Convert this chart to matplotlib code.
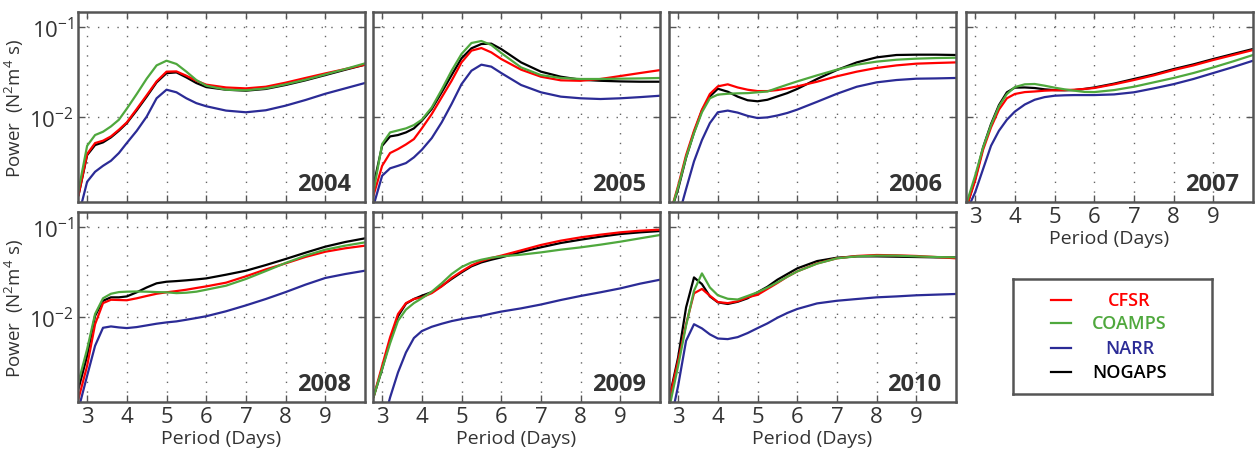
import matplotlib
matplotlib.use("Agg")
import matplotlib.pyplot as plt
from matplotlib.ticker import FixedLocator, NullLocator, NullFormatter
import numpy as np

plt.rcParams['font.family'] = ['Open Sans', 'DejaVu Sans']
plt.rcParams['mathtext.fontset'] = 'custom'
plt.rcParams['mathtext.rm'] = 'Open Sans'
plt.rcParams['mathtext.it'] = 'Open Sans:italic'
plt.rcParams['mathtext.bf'] = 'Open Sans:bold'

# period grid (days), shared by every panel
PERIOD = [2.78, 3.0, 3.2, 3.4, 3.6, 3.8, 4.0, 4.25, 4.5, 4.75, 5.0, 5.25,
          5.5, 5.75, 6.0, 6.5, 7.0, 7.5, 8.0, 8.5, 9.0, 9.5, 10.0]

# power values, in units of 1e-3 N^2 m^4 s
CFSR_2004 = [1.35, 3.92, 5.19, 5.51, 6.15, 7.29, 8.8, 12.4, 17.6, 25.1, 32.2, 32.4, 29.0, 25.5, 23.1, 21.5, 21.0, 21.9, 24.3, 27.4, 30.8, 34.4, 38.5]
COAMPS_2004 = [1.53, 4.84, 6.37, 6.93, 7.94, 9.42, 12.5, 18.2, 26.9, 37.8, 42.6, 39.2, 32.2, 26.0, 22.5, 20.3, 20.0, 21.0, 23.3, 26.2, 30.0, 34.4, 39.8]
NARR_2004 = [0.8, 1.93, 2.49, 2.90, 3.30, 4.02, 5.2, 7.1, 10.2, 16.3, 20.3, 19.0, 16.3, 14.4, 13.3, 11.9, 11.4, 12.0, 13.5, 15.6, 18.3, 21.0, 24.1]
NOGAPS_2004 = [1.35, 3.81, 4.93, 5.28, 6.00, 7.11, 8.65, 12.0, 17.0, 24.5, 31.0, 31.6, 27.8, 24.1, 21.7, 20.3, 19.8, 20.7, 22.9, 25.8, 29.5, 33.8, 38.5]

CFSR_2005 = [1.35, 2.90, 4.02, 4.45, 5.01, 5.74, 7.55, 10.9, 16.7, 25.5, 40.8, 55.1, 58.9, 52.7, 44.5, 33.9, 28.3, 25.8, 25.5, 26.7, 28.8, 31.1, 33.5]
COAMPS_2005 = [1.47, 5.06, 6.81, 7.17, 7.55, 8.22, 9.42, 12.9, 20.3, 33.0, 50.6, 67.0, 70.5, 63.7, 51.9, 35.9, 29.5, 27.4, 26.7, 26.7, 26.9, 27.1, 27.4]
NARR_2005 = [1.04, 2.25, 2.72, 2.90, 3.11, 3.60, 4.37, 5.89, 8.80, 14.1, 23.4, 33.0, 38.5, 36.6, 31.1, 22.9, 19.0, 17.0, 16.3, 16.0, 16.3, 16.8, 17.4]
NOGAPS_2005 = [1.74, 4.84, 6.15, 6.37, 6.81, 7.55, 9.18, 12.4, 19.0, 29.5, 45.3, 58.5, 65.3, 65.9, 57.4, 40.8, 32.2, 28.3, 26.2, 25.5, 25.1, 24.9, 24.9]

CFSR_2006 = [0.8, 1.74, 3.81, 7.11, 12.2, 18.2, 22.1, 23.3, 21.5, 20.3, 19.6, 19.6, 20.1, 21.0, 22.1, 24.9, 28.6, 32.2, 35.4, 37.8, 39.5, 40.2, 40.8]
COAMPS_2006 = [0.8, 1.67, 3.60, 6.70, 11.4, 16.3, 17.9, 18.3, 18.5, 18.6, 19.0, 19.4, 21.2, 23.1, 25.1, 29.3, 33.9, 38.5, 41.6, 43.7, 44.9, 45.6, 46.0]
NARR_2006 = [0.4, 0.77, 1.60, 3.25, 5.60, 8.65, 11.4, 11.9, 11.3, 10.4, 9.84, 10.0, 10.5, 11.2, 12.2, 14.9, 18.3, 21.9, 24.5, 26.0, 26.9, 27.1, 27.4]
NOGAPS_2006 = [0.8, 1.6, 3.56, 6.81, 11.9, 17.1, 20.8, 19.3, 17.0, 15.5, 15.1, 15.7, 17.1, 18.6, 20.7, 26.7, 33.6, 40.8, 46.4, 49.3, 49.7, 49.7, 49.3]

CFSR_2007 = [1.0, 1.98, 4.37, 7.74, 12.2, 16.3, 18.2, 19.1, 19.4, 19.8, 20.0, 20.1, 20.3, 20.7, 21.2, 23.3, 26.0, 29.3, 33.6, 37.8, 43.4, 49.3, 56.0]
COAMPS_2007 = [1.1, 2.25, 4.64, 8.2, 13.3, 18.2, 21.7, 23.3, 23.5, 22.5, 21.4, 20.5, 19.8, 19.2, 19.1, 20.1, 21.9, 24.5, 27.4, 31.1, 35.9, 41.9, 49.3]
NARR_2007 = [0.9, 1.47, 2.67, 4.84, 7.11, 9.42, 11.6, 13.9, 15.7, 16.8, 17.4, 17.6, 17.7, 17.7, 17.7, 18.0, 19.0, 21.0, 23.4, 26.7, 31.1, 36.2, 42.6]
NOGAPS_2007 = [1.0, 2.07, 4.64, 8.43, 13.7, 19.0, 21.4, 21.5, 21.2, 20.5, 20.1, 20.0, 20.1, 20.7, 21.5, 23.7, 26.7, 30.0, 34.4, 38.8, 44.5, 50.6, 57.5]

CFSR_2008 = [1.24, 2.9, 8.4, 14.4, 15.7, 15.6, 15.5, 16.3, 17.3, 18.3, 19.0, 19.6, 20.3, 21.2, 22.1, 24.3, 28.6, 34.1, 39.8, 46.9, 53.6, 58.5, 62.6]
COAMPS_2008 = [1.90, 4.45, 10.9, 16.3, 18.3, 19.1, 19.3, 19.4, 19.3, 19.1, 19.0, 18.6, 18.8, 19.3, 20.3, 22.5, 26.7, 32.7, 40.2, 48.5, 56.5, 62.6, 68.1]
NARR_2008 = [0.95, 2.25, 4.84, 7.67, 7.94, 7.74, 7.61, 7.81, 8.15, 8.51, 8.80, 9.03, 9.42, 9.84, 10.3, 11.7, 13.6, 16.0, 19.1, 23.1, 27.4, 30.3, 33.0]
NOGAPS_2008 = [1.6, 3.75, 10.4, 15.3, 16.7, 16.7, 17.1, 19.0, 21.5, 23.9, 24.9, 25.3, 25.8, 26.4, 27.1, 29.8, 33.0, 38.1, 44.5, 52.3, 61.0, 68.7, 75.5]

CFSR_2009 = [1.29, 2.90, 6.0, 10.9, 14.4, 16.0, 16.7, 18.6, 22.1, 27.4, 32.4, 37.8, 42.2, 45.6, 48.5, 55.5, 63.7, 71.1, 77.4, 82.9, 88.0, 91.8, 94.2]
COAMPS_2009 = [1.29, 2.67, 5.15, 9.18, 12.2, 14.4, 16.3, 19.3, 23.9, 30.3, 36.2, 40.8, 43.7, 46.0, 47.6, 49.7, 52.7, 56.5, 59.9, 64.2, 69.3, 75.5, 82.2]
NARR_2009 = [0.4, 0.6, 1.29, 2.45, 4.08, 5.9, 7.05, 7.87, 8.5, 9.1, 9.58, 10.0, 10.4, 11.0, 11.6, 12.6, 13.9, 15.6, 17.3, 19.0, 21.0, 23.7, 26.2]
NOGAPS_2009 = [1.29, 2.67, 5.6, 10.3, 14.2, 16.0, 17.4, 19.1, 22.3, 26.7, 31.6, 36.9, 40.8, 43.7, 46.4, 53.2, 60.0, 67.0, 72.9, 78.8, 84.3, 88.0, 91.0]

CFSR_2010 = [1.24, 3.3, 8.4, 18.5, 20.7, 17.4, 14.8, 14.4, 15.1, 16.7, 17.8, 20.7, 24.1, 28.3, 32.4, 39.8, 45.3, 48.1, 49.3, 48.9, 48.1, 46.8, 45.3]
COAMPS_2010 = [1.0, 2.9, 8.1, 19.8, 30.8, 21.5, 17.6, 16.1, 15.8, 17.3, 19.0, 21.4, 24.5, 28.3, 32.4, 39.5, 45.3, 47.6, 48.5, 48.5, 47.6, 46.8, 46.4]
NARR_2010 = [0.6, 1.74, 5.5, 8.4, 7.55, 6.48, 5.83, 5.74, 6.04, 6.70, 7.6, 8.58, 9.91, 11.2, 12.4, 14.3, 15.3, 16.0, 16.7, 17.1, 17.6, 17.9, 18.2]
NOGAPS_2010 = [1.29, 3.6, 12.9, 27.8, 23.4, 17.1, 14.7, 14.1, 14.9, 16.3, 19.0, 21.9, 26.2, 30.3, 35.0, 42.2, 46.0, 47.6, 47.6, 47.2, 46.8, 46.4, 46.4]

YEARS = ["2004", "2005", "2006", "2007", "2008", "2009", "2010"]
MODELS = ["CFSR", "COAMPS", "NARR", "NOGAPS"]
SCALE = 1e-3

COLORS = {"CFSR": "#ff0000", "COAMPS": "#4fa83d", "NARR": "#2b2b96", "NOGAPS": "#000000"}
DRAW_ORDER = ["NARR", "NOGAPS", "CFSR", "COAMPS"]

SERIES = {
    (y, m): globals()[f"{m}_{y}"] for y in YEARS for m in MODELS
}

W, H = 1255, 456
fig = plt.figure(figsize=(W / 100, H / 100), dpi=100)

col_left = [78, 373, 669, 966]
row_top = [13, 213]
ax_w, ax_h = 287, 190

TXT = "#333333"
SPINE = "#555555"

for i, year in enumerate(YEARS):
    r, c = divmod(i, 4)
    ax = fig.add_axes([col_left[c] / W, 1 - (row_top[r] + ax_h) / H, ax_w / W, ax_h / H])
    for m in DRAW_ORDER:
        vals = np.array(SERIES[(year, m)]) * SCALE
        ax.plot(PERIOD, vals, color=COLORS[m], lw=1.6, solid_capstyle='round')
    ax.set_yscale('log')
    ax.set_xlim(2.77, 10.0)
    ax.set_ylim(1.15e-3, 0.148)
    ax.xaxis.set_major_locator(FixedLocator([3, 4, 5, 6, 7, 8, 9]))
    ax.yaxis.set_major_locator(FixedLocator([1e-2, 1e-1]))
    ax.yaxis.set_minor_locator(NullLocator())
    ax.yaxis.set_minor_formatter(NullFormatter())
    ax.grid(True, which='major', color='#666666', linestyle=(0, (1, 6)), lw=1.0)
    ax.tick_params(which='both', direction='in', top=True, right=True,
                   length=5, width=1, color=SPINE, labelsize=16, labelcolor=TXT, pad=3)
    for s in ax.spines.values():
        s.set_color(SPINE)
        s.set_linewidth(1.8)

    if c == 0:
        ax.set_yticklabels([r"10$^{-2}$", r"10$^{-1}$"])
        ax.set_ylabel(r"Power  (N$^2$m$^4$ s)", fontsize=13.5, color=TXT, labelpad=2)
    else:
        ax.set_yticklabels([])

    if r == 1 or year == "2007":
        ax.set_xlabel("Period (Days)", fontsize=14, color=TXT, labelpad=1)
    else:
        ax.set_xticklabels([])

    ax.text(0.95, 0.03, year, transform=ax.transAxes, ha='right', va='bottom',
            fontsize=17, fontweight='bold', color=TXT)

# legend box
lax = fig.add_axes([1013 / W, 1 - 395 / H, 199 / W, 115 / H])
lax.set_xlim(0, 1)
lax.set_ylim(0, 1)
lax.set_xticks([])
lax.set_yticks([])
for s in lax.spines.values():
    s.set_color(SPINE)
    s.set_linewidth(1.8)
row_y = [0.82, 0.62, 0.40, 0.19]
for m, yy in zip(MODELS, row_y):
    lax.plot([0.19, 0.29], [yy, yy], color=COLORS[m], lw=1.6)
    lax.text(0.585, yy, m, color=COLORS[m], fontsize=13, fontweight='semibold',
             ha='center', va='center')

fig.savefig("out.png", dpi=100)
